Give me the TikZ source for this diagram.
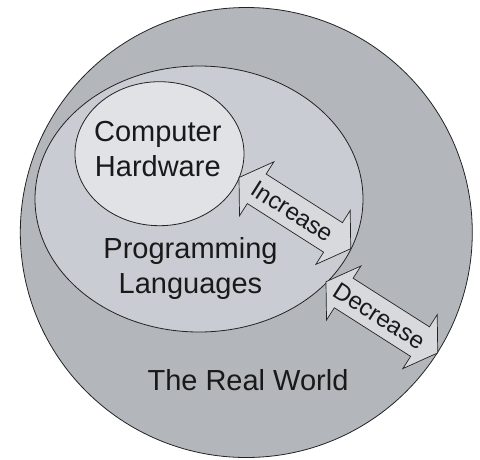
\documentclass[tikz,border=0pt]{standalone}
\usepackage{fontspec}
\setmainfont{Liberation Sans}
\usetikzlibrary{shapes.geometric}

\definecolor{worldfill}{RGB}{179,182,187}
\definecolor{langfill}{RGB}{201,204,210}
\definecolor{hwfill}{RGB}{225,226,229}
\definecolor{arrowfill}{RGB}{216,217,221}
\definecolor{edge}{RGB}{35,35,35}

\tikzset{
  region/.style={ellipse, draw=edge, line width=0.8pt, inner sep=0pt},
  label/.style={font=\fontsize{29}{35.5}\selectfont, text=black!90, align=center, inner sep=0pt},
  blockarrow/.style={draw=edge, fill=arrowfill, line width=0.7pt, line join=miter},
  arrowtext/.style={font=\fontsize{24}{28}\selectfont, text=black!90, inner sep=0pt, rotate=-32.5}
}

% double-headed block arrow along the local x axis, length 132.5
\newcommand{\twowayarrow}{%
  (0,0) -- (21,32) -- (21,17.5) -- (111.5,17.5) -- (111.5,32) -- (132.5,0)
  -- (111.5,-32) -- (111.5,-17.5) -- (21,-17.5) -- (21,-32) -- cycle}

\begin{document}
\begin{tikzpicture}[x=1pt, y=-1pt]
  \useasboundingbox (0,0) rectangle (480,459);

  % nested regions
  \node[region, fill=worldfill, minimum width=452pt, minimum height=450pt] (world) at (246.3,232.5) {};
  \node[region, fill=langfill, minimum width=328pt, minimum height=266pt] (lang) at (199,199) {};
  \node[region, fill=hwfill, minimum width=169pt, minimum height=144pt] (hw) at (159.5,153.7) {};

  % Increase arrow
  \begin{scope}[shift={(239,177.5)}, rotate=-32.5]
    \draw[blockarrow] \twowayarrow;
  \end{scope}
  % Decrease arrow
  \begin{scope}[shift={(326,281.7)}, rotate=-32.5]
    \draw[blockarrow] \twowayarrow;
  \end{scope}

  \node[arrowtext] (inc) at (292.5,211.5) {Increase};
  \node[arrowtext] (dec) at (379.5,316) {Decrease};

  % region labels
  \node[label] (hwtext) at (157.8,149) {Computer\\Hardware};
  \node[label] (langtext) at (190.5,268.4) {Programming\\Languages};
  \node[label, anchor=base] (worldtext) at (248,390) {The Real World};
\end{tikzpicture}
\end{document}
